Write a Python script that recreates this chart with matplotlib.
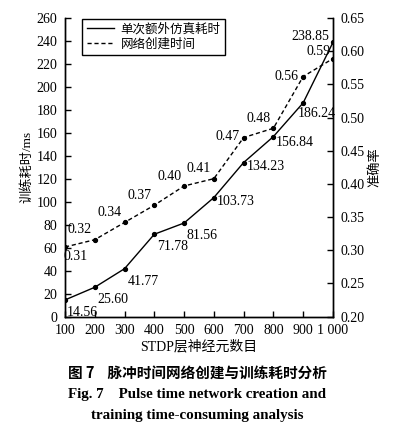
import matplotlib.pyplot as plt
import numpy as np

plt.rcParams['font.family'] = ['Liberation Serif', 'Noto Sans CJK SC']
plt.rcParams['font.size'] = 10
plt.rcParams['axes.linewidth'] = 1.0
plt.rcParams['xtick.direction'] = 'in'
plt.rcParams['ytick.direction'] = 'in'

neurons = [100, 200, 300, 400, 500, 600, 700, 800, 900, 1000]
sim_time = [14.56, 25.60, 41.77, 71.78, 81.56, 103.73, 134.23, 156.84, 186.24, 238.85]
accuracy = [0.305, 0.316, 0.342, 0.368, 0.397, 0.408, 0.470, 0.484, 0.562, 0.589]
acc_labels = ['0.31', '0.32', '0.34', '0.37', '0.40', '0.41', '0.47', '0.48', '0.56', '0.59']
x_ticklabels = ['100', '200', '300', '400', '500', '600', '700', '800', '900', '1 000']

# label offsets in points (dx, dy) and alignment
time_off = [(1, -9), (2, -9), (2, -9), (2, -9), (2, -9), (2, -3), (2, -3), (2, -4), (-4, -8), (-3, 4)]
time_ha = ['left'] * 8 + ['left', 'right']
acc_off = [(-1, -7), (-2, 7), (-2, 7), (-2, 7), (-2, 7), (-2, 7), (-3, 1), (-2, 7), (-3, 0), (-2, 5)]

fig = plt.figure(figsize=(3.94, 4.32), dpi=100)
ax = fig.add_axes([0.165, 0.267, 0.68, 0.691])
ax2 = ax.twinx()

l1, = ax.plot(neurons, sim_time, 'k-', lw=1.0, marker='o', ms=2.8, label='单次额外仿真耗时')
l2, = ax2.plot(neurons, accuracy, 'k--', lw=1.0, marker='o', ms=2.8, dashes=(3, 2), label='网络创建时间')

for i, (x, y) in enumerate(zip(neurons, sim_time)):
    ax.annotate(f'{y:.2f}', (x, y), xytext=time_off[i], textcoords='offset points',
                ha=time_ha[i], va='center')
for i, (x, y) in enumerate(zip(neurons, accuracy)):
    ha = 'left' if i == 0 else 'right'
    ax2.annotate(acc_labels[i], (x, y), xytext=acc_off[i], textcoords='offset points',
                 ha=ha, va='center')

ax.set_xlim(100, 1000)
ax.set_ylim(0, 260)
ax2.set_ylim(0.20, 0.65)
ax.set_xticks(neurons)
ax.set_xticklabels(x_ticklabels)
ax.set_yticks(np.arange(0, 261, 20))
ax2.set_yticks(np.arange(0.20, 0.651, 0.05))
ax2.set_yticklabels([f'{v:.2f}' for v in np.arange(0.20, 0.651, 0.05)])
for a in (ax, ax2):
    a.spines['top'].set_visible(False)
    a.tick_params(length=4, width=1.0, pad=5.5)
ax.tick_params(axis='x', pad=5)

ax.set_xlabel('STDP层神经元数目', labelpad=2)
ax.set_ylabel('训练耗时/ms', labelpad=2.5, fontsize=9.5)
ax2.set_ylabel('准确率', rotation=90, labelpad=3, fontsize=9.5)

leg = ax.legend(handles=[l1, l2], loc='upper left', bbox_to_anchor=(0.065, 0.997),
                borderaxespad=0, handlelength=2.2, handletextpad=0.5, borderpad=0.35,
                labelspacing=0.2, fancybox=False, edgecolor='black', framealpha=1, fontsize=9)
leg.get_frame().set_linewidth(1.0)
for h in leg.legend_handles:
    h.set_marker('')

fig.text(0.5, 0.137, '图 7    脉冲时间网络创建与训练耗时分析', ha='center', va='center',
         fontsize=10.5, fontweight='bold', family=['Noto Sans CJK SC'])
fig.text(0.5, 0.086, 'Fig. 7    Pulse time network creation and', ha='center', va='center',
         fontsize=10.8, fontweight='bold')
fig.text(0.5, 0.039, 'training time-consuming analysis', ha='center', va='center',
         fontsize=10.8, fontweight='bold')

plt.savefig('out.png', dpi=100)
